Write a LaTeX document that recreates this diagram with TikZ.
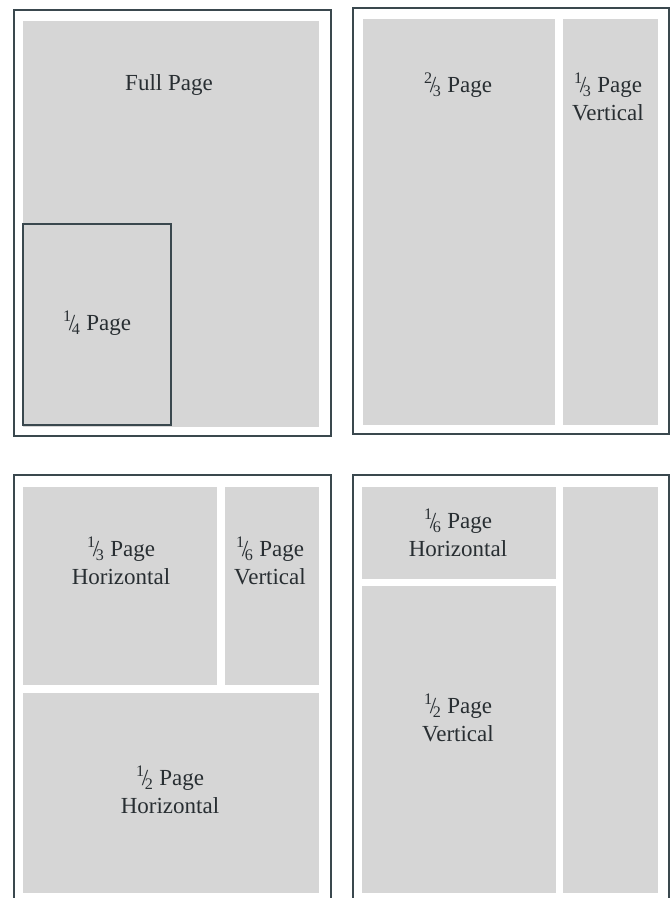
\documentclass[tikz,border=0pt]{standalone}
\usepackage{fontspec}
\setmainfont{Liberation Serif}
\usepackage{tikz}
\usetikzlibrary{positioning}
\definecolor{adgrey}{RGB}{214,214,214}
\definecolor{adframe}{RGB}{58,72,78}
\definecolor{adtext}{RGB}{40,46,50}
\newcommand{\pagefrac}[2]{\textsuperscript{#1}\kern-.12em/\kern-.14em\textsubscript{#2}}

\begin{document}
\begin{tikzpicture}[x=1pt,y=-1pt,
  frame/.style={draw=adframe,line width=1.5pt},
  adlabel/.style={align=center,text=adtext,inner sep=0pt,
    font=\fontsize{23}{28}\selectfont}]
\useasboundingbox (0,0) rectangle (670,898);
% Top left: full page and quarter page
\draw[frame] (14,10) rectangle (331,436);
\fill[adgrey] (23,21) rectangle (319,427);
\draw[frame,fill=adgrey] (23,224) rectangle (171,425);
\node[adlabel] (full) at (169,85) {Full Page};
\node[adlabel] (quarter) at (97,323) {\pagefrac{1}{4} Page};
% Top right: two thirds and one third vertical
\draw[frame] (353,8) rectangle (669,434);
\fill[adgrey] (363,19) rectangle (555,425);
\fill[adgrey] (563,19) rectangle (658,425);
\node[adlabel] (twothird) at (458,85) {\pagefrac{2}{3} Page};
\node[adlabel] (thirdv) at (608,97) {\pagefrac{1}{3} Page\\Vertical};
% Bottom left: third horizontal, sixth vertical, half horizontal
\draw[frame] (14,898) -- (14,475) -- (331,475) -- (331,898);
\fill[adgrey] (23,487) rectangle (217,685);
\fill[adgrey] (225,487) rectangle (319,685);
\fill[adgrey] (23,693) rectangle (319,893);
\node[adlabel] (thirdh) at (121,561) {\pagefrac{1}{3} Page\\Horizontal};
\node[adlabel] (sixthv) at (270,561) {\pagefrac{1}{6} Page\\Vertical};
\node[adlabel] (halfh) at (170,790) {\pagefrac{1}{2} Page\\Horizontal};
% Bottom right: sixth horizontal, half vertical
\draw[frame] (353,898) -- (353,475) -- (669,475) -- (669,898);
\fill[adgrey] (362,487) rectangle (556,579);
\fill[adgrey] (362,586) rectangle (556,893);
\fill[adgrey] (563,487) rectangle (658,893);
\node[adlabel] (sixthh) at (458,533) {\pagefrac{1}{6} Page\\Horizontal};
\node[adlabel] (halfv) at (458,718) {\pagefrac{1}{2} Page\\Vertical};
\end{tikzpicture}
\end{document}
